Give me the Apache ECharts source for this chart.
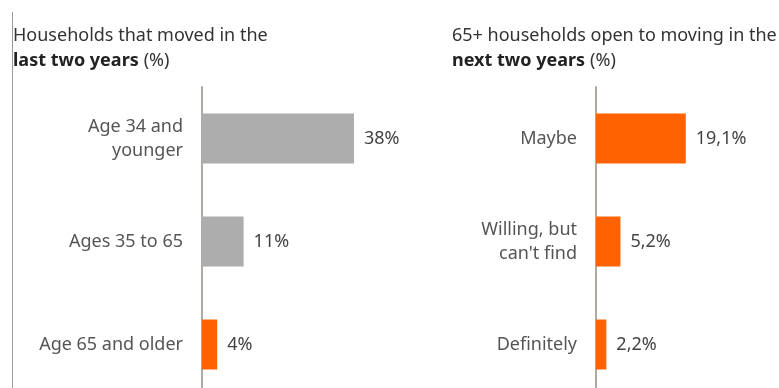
<!DOCTYPE html>
<html><head><meta charset="utf-8">
<script src="https://cdn.jsdelivr.net/npm/echarts@6/dist/echarts.min.js"></script>
<style>html,body{margin:0;padding:0;background:#fff;overflow:hidden}#c{width:779px;height:400px}</style>
</head><body><div id="c"></div>
<script>
const leftCategories = ['Age 34 and\nyounger', 'Ages 35 to 65', 'Age 65 and older'];
const leftValues = [38, 10.4, 3.8];
const leftLabels = ['38%', '11%', '4%'];
const rightCategories = ['Maybe', "Willing, but\ncan't find", 'Definitely'];
const rightValues = [19.1, 5.2, 2.2];
const rightLabels = ['19,1%', '5,2%', '2,2%'];

const FONT = 'Noto Sans';
const GRAY = '#adadad', ORANGE = '#ff6200';
const chart = echarts.init(document.getElementById('c'), null, {renderer: 'canvas'});
const titleRich = {
  n: {fontFamily: FONT, fontSize: 18, color: '#333', fontWeight: 'normal', lineHeight: 25},
  b: {fontFamily: FONT, fontSize: 18, color: '#222', fontWeight: 'bold', lineHeight: 25}
};
function axisY(cats, grid) {
  return {type: 'category', gridIndex: grid, data: cats, inverse: true,
    axisLine: {show: true, lineStyle: {color: '#b0aaa4', width: 2}},
    axisTick: {show: false},
    axisLabel: {margin: 19, fontFamily: FONT, fontSize: 18, color: '#555', lineHeight: 24, align: 'right'}};
}
function axisX(max, grid) {
  return {type: 'value', gridIndex: grid, min: 0, max: max, show: false, splitLine: {show: false}};
}
function barSeries(vals, labels, grid, colorFn) {
  return {type: 'bar', xAxisIndex: grid, yAxisIndex: grid, barWidth: 50,
    data: vals.map((v, i) => ({value: v, itemStyle: {color: colorFn(i)}})),
    label: {show: true, position: 'right', distance: 10, fontFamily: FONT, fontSize: 18, color: '#444',
      formatter: p => labels[p.dataIndex]},
    animation: false};
}
chart.setOption({
  animation: false,
  title: [
    {text: '{n|Households that moved in the}\n{b|last two years} {n|(%)}', left: 8, top: 18,
      textStyle: {rich: titleRich}},
    {text: '{n|65+ households open to moving in the}\n{b|next two years} {n|(%)}', left: 447, top: 18,
      textStyle: {rich: titleRich}}
  ],
  grid: [
    {left: 202, top: 87, width: 200, height: 309},
    {left: 596, top: 87, width: 141, height: 309}
  ],
  xAxis: [axisX(50, 0), axisX(30, 1)],
  yAxis: [axisY(leftCategories, 0), axisY(rightCategories, 1)],
  series: [
    barSeries(leftValues, leftLabels, 0, i => i === leftValues.length - 1 ? ORANGE : GRAY),
    barSeries(rightValues, rightLabels, 1, () => ORANGE)
  ],
  graphic: [{type: 'line', shape: {x1: 12.5, y1: 12, x2: 12.5, y2: 400}, style: {stroke: '#9a9a9a', lineWidth: 1}}]
});
</script></body></html>
